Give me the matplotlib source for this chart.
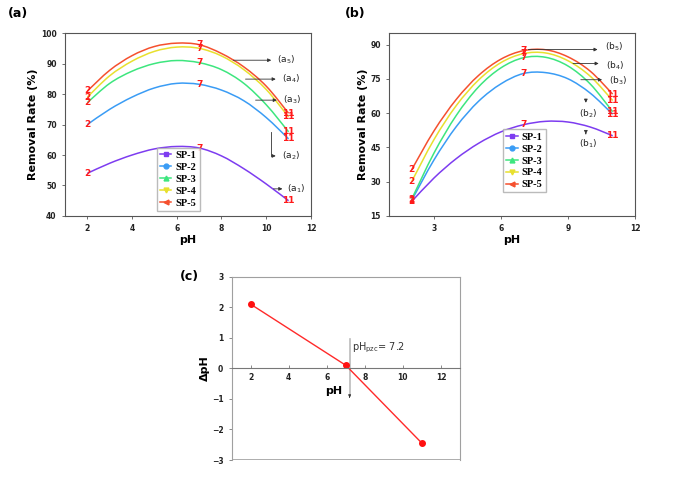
import numpy as np
import matplotlib
matplotlib.use('Agg')
import matplotlib.pyplot as plt
from matplotlib.path import Path
from matplotlib.patches import PathPatch

ph = [2, 3, 4, 5, 6, 7, 8, 9, 10, 11]
labels = ['SP-1', 'SP-2', 'SP-3', 'SP-4', 'SP-5']
colors = ['#7d3cf0', '#3a9cf5', '#3de67e', '#e8e02e', '#f5502e']
markers = ['s', 'o', '^', 'v', '<']

# panel (a): removal rate (%)
a_sp1 = [54.0, 57.3, 60.0, 62.0, 62.8, 62.3, 59.7, 55.5, 50.5, 45.0]
a_sp2 = [70.0, 75.0, 79.0, 82.0, 83.5, 83.2, 81.3, 77.8, 72.3, 65.3]
a_sp3 = [77.2, 83.5, 87.5, 90.0, 91.0, 90.3, 88.0, 83.5, 76.5, 67.6]
a_sp4 = [79.0, 86.0, 90.8, 94.0, 95.4, 95.0, 92.5, 88.0, 81.5, 72.5]
a_sp5 = [81.0, 87.8, 92.6, 95.6, 96.7, 96.2, 93.3, 88.9, 82.6, 73.7]

# panel (b): removal rate (%)
b_sp1 = [21.3, 31.6, 40.1, 46.8, 51.8, 54.9, 56.4, 56.1, 53.9, 50.1]
b_sp2 = [21.8, 39.5, 54.1, 65.2, 72.8, 77.3, 77.7, 75.0, 68.7, 59.5]
b_sp3 = [22.3, 42.5, 59.0, 71.5, 79.8, 84.2, 84.4, 80.6, 72.7, 60.6]
b_sp4 = [30.0, 48.4, 63.3, 74.5, 82.1, 86.0, 86.3, 82.9, 76.1, 65.5]
b_sp5 = [35.2, 52.2, 66.0, 76.5, 83.6, 87.3, 87.7, 84.6, 78.3, 68.3]

# panel (c): delta pH
c_ph = [2, 7, 11]
c_dph = [2.1, 0.1, -2.45]
pzc = 7.2

point_ph = [2, 7, 11]

fig = plt.figure(figsize=(6.85, 4.93), dpi=100)
spine_col = '#555555'


def smooth_path(xs, ys):
    # Catmull-Rom through the read points, drawn as cubic Bezier segments
    p = np.column_stack([xs, ys]).astype(float)
    p = np.vstack([p[0], p, p[-1]])
    verts = [p[1]]
    codes = [Path.MOVETO]
    for i in range(1, len(p) - 2):
        c1 = p[i] + (p[i + 1] - p[i - 1]) / 6
        c2 = p[i + 1] - (p[i + 2] - p[i]) / 6
        verts += [c1, c2, p[i + 1]]
        codes += [Path.CURVE4] * 3
    return Path(verts, codes)


def style_axes(ax):
    for s in ax.spines.values():
        s.set_color(spine_col)
        s.set_linewidth(0.8)
    ax.tick_params(direction='out', length=2.5, width=0.6, colors=spine_col,
                   labelsize=5.5, labelcolor='#222222')
    for t in ax.get_xticklabels() + ax.get_yticklabels():
        t.set_fontweight('bold')


def removal_panel(ax, series, anchor):
    for i, ys in enumerate(series):
        ax.add_patch(PathPatch(smooth_path(ph, ys), fill=False,
                               edgecolor=colors[i], lw=1.1))
        ax.plot([], [], color=colors[i], lw=1.1, label=labels[i],
                marker=markers[i], ms=3.5)
        for p in point_ph:
            ax.text(p, ys[ph.index(p)], str(p), color='#ff1a1a', fontsize=6.5,
                    fontweight='bold', ha='center', va='center')
    ax.legend(prop={'family': 'Liberation Serif', 'weight': 'bold', 'size': 7.5},
              handlelength=1.1, handletextpad=0.4, labelspacing=0.25,
              borderpad=0.3, frameon=True, fancybox=False, numpoints=1,
              edgecolor='#aaaaaa', loc='lower center',
              bbox_to_anchor=anchor, bbox_transform=ax.transAxes)
    ax.set_xlabel('pH', fontsize=8, fontweight='bold', labelpad=1)
    ax.set_ylabel('Removal Rate (%)', fontsize=8, fontweight='bold', labelpad=2)


arrow_kw = dict(arrowstyle='-|>', color='#333333', lw=0.6, mutation_scale=5)
note_font = dict(fontsize=6.5, color='#222222', va='center')

# ---- (a)
ax1 = fig.add_axes([0.0949, 0.5619, 0.359, 0.371])
removal_panel(ax1, [a_sp1, a_sp2, a_sp3, a_sp4, a_sp5], (0.36, 0.0, 0.2, 0.3))
ax1.set_xlim(1, 12)
ax1.set_ylim(40, 100)
ax1.set_xticks([2, 4, 6, 8, 10, 12])
ax1.set_yticks([40, 50, 60, 70, 80, 90, 100])
style_axes(ax1)
ax1.annotate('', xy=(10.35, 91.1), xytext=(8.4, 91.1), arrowprops=arrow_kw)
ax1.text(10.5, 91.1, '(a$_5$)', **note_font)
ax1.annotate('', xy=(10.55, 84.9), xytext=(8.95, 84.9), arrowprops=arrow_kw)
ax1.text(10.7, 84.9, '(a$_4$)', **note_font)
ax1.annotate('', xy=(10.6, 78.0), xytext=(9.4, 78.0), arrowprops=arrow_kw)
ax1.text(10.75, 78.0, '(a$_3$)', **note_font)
ax1.plot([10.2, 10.2], [67.5, 59.7], color='#333333', lw=0.6)
ax1.annotate('', xy=(10.55, 59.7), xytext=(10.2, 59.7), arrowprops=arrow_kw)
ax1.text(10.7, 59.7, '(a$_2$)', **note_font)
ax1.annotate('', xy=(10.85, 48.9), xytext=(10.2, 48.9), arrowprops=arrow_kw)
ax1.text(10.95, 48.9, '(a$_1$)', **note_font)

# ---- (b)
ax2 = fig.add_axes([0.5683, 0.5619, 0.3587, 0.371])
removal_panel(ax2, [b_sp1, b_sp2, b_sp3, b_sp4, b_sp5], (0.45, 0.1, 0.2, 0.3))
ax2.set_xlim(1, 12)
ax2.set_ylim(15, 95)
ax2.set_xticks([3, 6, 9, 12])
ax2.set_yticks([15, 30, 45, 60, 75, 90])
style_axes(ax2)
ax2.annotate('', xy=(10.45, 87.8), xytext=(7.1, 87.8), arrowprops=arrow_kw)
ax2.text(10.65, 89.0, '(b$_5$)', **note_font)
ax2.annotate('', xy=(10.5, 81.7), xytext=(9.1, 81.7), arrowprops=arrow_kw)
ax2.text(10.7, 80.8, '(b$_4$)', **note_font)
ax2.annotate('', xy=(10.65, 74.6), xytext=(9.45, 74.6), arrowprops=arrow_kw)
ax2.text(10.85, 74.0, '(b$_3$)', **note_font)
ax2.annotate('', xy=(9.8, 63.3), xytext=(9.8, 67.3), arrowprops=arrow_kw)
ax2.text(9.9, 59.8, '(b$_2$)', ha='center', **note_font)
ax2.annotate('', xy=(9.8, 49.6), xytext=(9.8, 52.2), arrowprops=arrow_kw)
ax2.text(9.9, 46.6, '(b$_1$)', ha='center', **note_font)

# ---- (c)
ax3 = fig.add_axes([0.3382, 0.0669, 0.3333, 0.3718])
ax3.plot(c_ph, c_dph, color='#ff2a2a', lw=1.0, marker='o', ms=4,
         markerfacecolor='#ff1010', markeredgecolor='#ff1010')
ax3.set_xlim(1, 13)
ax3.set_ylim(-3, 3)
ax3.set_xticks([2, 4, 6, 8, 10, 12])
ax3.set_yticks([-3, -2, -1, 0, 1, 2, 3])
ax3.spines['bottom'].set_position(('data', 0))
for s in ax3.spines.values():
    s.set_color('#a0a0a0')
    s.set_linewidth(0.8)
ax3.spines['bottom'].set_color('#777777')
ax3.axhline(-3, color='#a0a0a0', lw=1.2)
ax3.tick_params(axis='x', direction='in', length=2.5, width=0.6, colors='#777777',
                labelsize=5.5, labelcolor='#222222')
ax3.tick_params(axis='y', direction='out', length=2.5, width=0.6, colors='#777777',
                labelsize=5.5, labelcolor='#222222')
for t in ax3.get_xticklabels() + ax3.get_yticklabels():
    t.set_fontweight('bold')
ax3.plot([pzc, pzc], [0.95, -0.9], color='#bbbbbb', lw=1.2, zorder=1)
ax3.annotate('', xy=(pzc, -1.05), xytext=(pzc, -0.85),
             arrowprops=dict(arrowstyle='-|>', color='#333333', lw=0.5, mutation_scale=4))
ax3.text(pzc + 0.1, 0.68, 'pH$_{\\mathregular{pzc}}$= 7.2', fontsize=7, color='#333333',
         va='center', ha='left')
ax3.text(6.35, -0.75, 'pH', fontsize=8, fontweight='bold', ha='center', va='center')
ax3.set_ylabel('ΔpH', fontsize=8, fontweight='bold', labelpad=1)

# panel letters
fig.text(0.012, 0.973, '(a)', fontsize=9, fontweight='bold', va='center')
fig.text(0.503, 0.973, '(b)', fontsize=9, fontweight='bold', va='center')
fig.text(0.262, 0.44, '(c)', fontsize=9, fontweight='bold', va='center')

fig.savefig('out.png', dpi=100)
